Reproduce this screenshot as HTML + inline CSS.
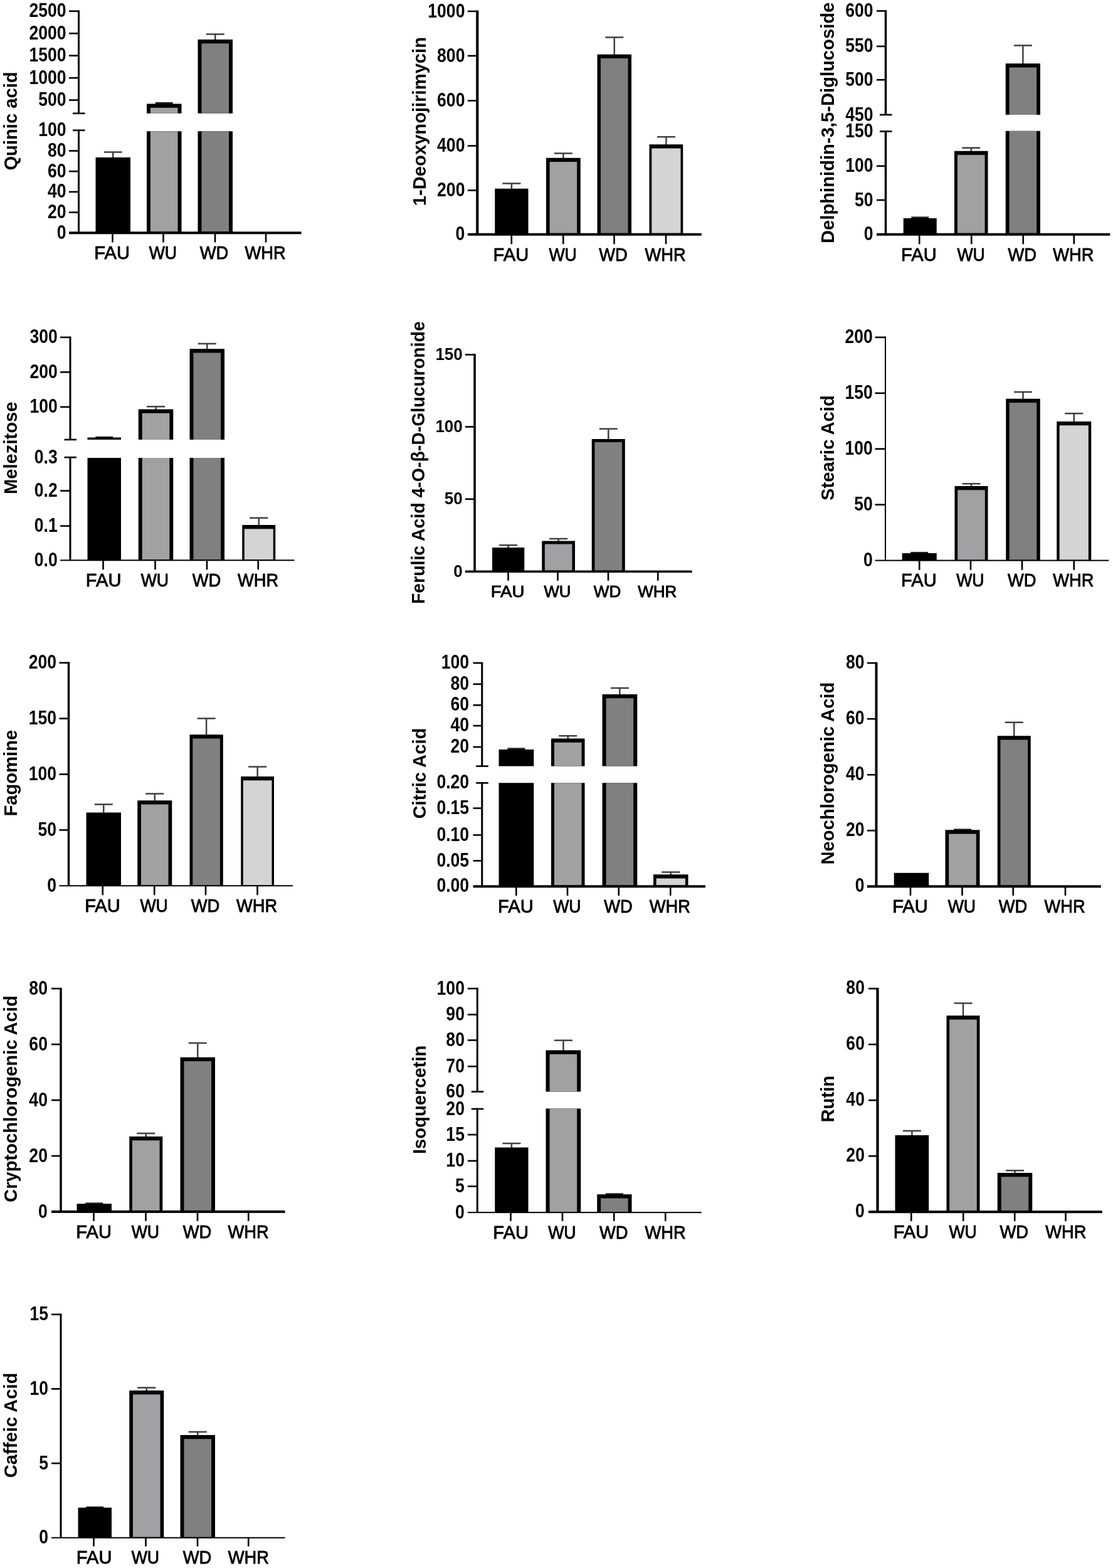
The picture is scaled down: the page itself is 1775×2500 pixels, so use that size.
<!DOCTYPE html>
<html lang="en">
<head>
<meta charset="utf-8">
<title>Metabolite content bar charts</title>
<style>
html,body{margin:0;padding:0;background:#fff;}
body{width:1775px;height:2500px;overflow:hidden;}
svg{display:block;}
svg text{font-family:"Liberation Sans",sans-serif;fill:#000;}
.yl text{font-weight:bold;text-anchor:end;}
.xl text{text-anchor:middle;stroke:#000;stroke-width:0.9px;stroke-linejoin:round;}
.ti{font-weight:bold;text-anchor:middle;}
.err{fill:none;stroke:#404040;stroke-width:2.5;}
.axes rect{fill:#000;}
</style>
</head>
<body>
<svg width="1775" height="2500" viewBox="0 0 1775 2500" role="img" aria-label="Bar charts of metabolite contents in FAU, WU, WD and WHR">
<rect width="1775" height="2500" fill="#fff"/>
<g class="chart" id="c1">
<g class="bars">
<path class="err" d="M180.25 252V242.5M165.75 242.5H194.75"/>
<rect x="152.5" y="251" width="55.5" height="120.3" fill="#000"/>
<rect x="247.75" y="162.9" width="28" height="3.2" fill="#1c1c1c"/>
<rect x="234" y="165.5" width="55.5" height="15.3" fill="#000"/>
<rect x="239.95" y="171.8" width="43.6" height="9" fill="#a1a1a4"/>
<rect x="234" y="209.3" width="55.5" height="162" fill="#000"/>
<rect x="239.95" y="209.3" width="43.6" height="160" fill="#a1a1a4"/>
<path class="err" d="M343.25 64V54.5M328.75 54.5H357.75"/>
<rect x="315.5" y="63" width="55.5" height="117.8" fill="#000"/>
<rect x="321.45" y="69.3" width="43.6" height="111.5" fill="#808080"/>
<rect x="315.5" y="209.3" width="55.5" height="162" fill="#000"/>
<rect x="321.45" y="209.3" width="43.6" height="160" fill="#808080"/>
</g>
<g class="axes">
<rect x="124" y="16.5" width="3" height="164.3"/>
<rect x="110" y="16.5" width="15.5" height="2.6"/>
<rect x="110" y="52" width="15.5" height="2.6"/>
<rect x="110" y="87.4" width="15.5" height="2.6"/>
<rect x="110" y="122.9" width="15.5" height="2.6"/>
<rect x="110" y="158.3" width="15.5" height="2.6"/>
<rect x="116" y="179.5" width="19.5" height="2.6"/>
<rect x="124" y="206.5" width="3" height="164.8"/>
<rect x="116" y="206.5" width="19.5" height="2.6"/>
<rect x="110" y="239.2" width="15.5" height="2.6"/>
<rect x="110" y="271.9" width="15.5" height="2.6"/>
<rect x="110" y="304.6" width="15.5" height="2.6"/>
<rect x="110" y="337.3" width="15.5" height="2.6"/>
<rect x="110" y="369.3" width="370.5" height="4"/>
<rect x="178.2" y="371.3" width="2.6" height="15.2"/>
<rect x="259.2" y="371.3" width="2.6" height="15.2"/>
<rect x="341.7" y="371.3" width="2.6" height="15.2"/>
<rect x="422.7" y="371.3" width="2.6" height="15.2"/>
</g>
<g class="yl" font-size="32">
<text transform="translate(105.6 27.16) scale(0.83 1)">2500</text>
<text transform="translate(105.6 62.66) scale(0.83 1)">2000</text>
<text transform="translate(105.6 98.06) scale(0.83 1)">1500</text>
<text transform="translate(105.6 133.56) scale(0.83 1)">1000</text>
<text transform="translate(105.6 168.96) scale(0.83 1)">500</text>
<text transform="translate(105.6 217.16) scale(0.83 1)">100</text>
<text transform="translate(105.6 249.86) scale(0.83 1)">80</text>
<text transform="translate(105.6 282.56) scale(0.83 1)">60</text>
<text transform="translate(105.6 315.26) scale(0.83 1)">40</text>
<text transform="translate(105.6 347.96) scale(0.83 1)">20</text>
<text transform="translate(105.6 380.66) scale(0.83 1)">0</text>
</g>
<g class="xl" font-size="30">
<text transform="translate(178.6 413) scale(0.97 1)">FAU</text>
<text transform="translate(259.9 413) scale(0.89 1)">WU</text>
<text transform="translate(341.5 413) scale(0.91 1)">WD</text>
<text transform="translate(423 413) scale(0.91 1)">WHR</text>
</g>
<text class="ti" font-size="29.2" transform="translate(26.9 192.95) rotate(-90) scale(1 1.01)">Quinic acid</text>
</g>
<g class="chart" id="c2">
<g class="bars">
<path class="err" d="M815.88 301.75V292.5M801.38 292.5H830.38"/>
<rect x="789.25" y="300.75" width="53.25" height="73" fill="#000"/>
<path class="err" d="M898.38 252.75V244.5M883.88 244.5H912.88"/>
<rect x="871" y="251.75" width="54.75" height="122" fill="#000"/>
<rect x="876.58" y="258.05" width="43.6" height="113.7" fill="#a1a1a4"/>
<path class="err" d="M979.75 87.75V59.5M965.25 59.5H994.25"/>
<rect x="952.5" y="86.75" width="54.5" height="287" fill="#000"/>
<rect x="957.95" y="93.05" width="43.6" height="278.7" fill="#808080"/>
<path class="err" d="M1062.38 231.25V218.25M1047.88 218.25H1076.88"/>
<rect x="1035.5" y="230.25" width="53.75" height="143.5" fill="#000"/>
<rect x="1039.28" y="236.55" width="46.2" height="135.2" fill="#d4d4d4"/>
</g>
<g class="axes">
<rect x="759.15" y="16.7" width="4.2" height="357.05"/>
<rect x="745.8" y="16.7" width="15.45" height="2.6"/>
<rect x="745.8" y="87.7" width="15.45" height="2.6"/>
<rect x="745.8" y="159.2" width="15.45" height="2.6"/>
<rect x="745.8" y="231.2" width="15.45" height="2.6"/>
<rect x="745.8" y="302.2" width="15.45" height="2.6"/>
<rect x="745.8" y="371.75" width="372.95" height="4"/>
<rect x="814.45" y="373.75" width="2.6" height="15.5"/>
<rect x="896.95" y="373.75" width="2.6" height="15.5"/>
<rect x="978.2" y="373.75" width="2.6" height="15.5"/>
<rect x="1060.7" y="373.75" width="2.6" height="15.5"/>
</g>
<g class="yl" font-size="32">
<text transform="translate(741.4 27.51) scale(0.83 1)">1000</text>
<text transform="translate(741.4 98.51) scale(0.83 1)">800</text>
<text transform="translate(741.4 170.01) scale(0.83 1)">600</text>
<text transform="translate(741.4 242.01) scale(0.83 1)">400</text>
<text transform="translate(741.4 313.01) scale(0.83 1)">200</text>
<text transform="translate(741.4 383.26) scale(0.83 1)">0</text>
</g>
<g class="xl" font-size="30">
<text transform="translate(814.85 416) scale(0.97 1)">FAU</text>
<text transform="translate(897.65 416) scale(0.89 1)">WU</text>
<text transform="translate(978 416) scale(0.91 1)">WD</text>
<text transform="translate(1061 416) scale(0.91 1)">WHR</text>
</g>
<text class="ti" font-size="29.2" transform="translate(678.9 193.57) rotate(-90) scale(1 1.01)">1-Deoxynojirimycin</text>
</g>
<g class="chart" id="c3">
<g class="bars">
<rect x="1453.25" y="345.4" width="28" height="3.2" fill="#1c1c1c"/>
<rect x="1440.75" y="348" width="53" height="25.75" fill="#000"/>
<path class="err" d="M1548.75 241.75V235.75M1534.25 235.75H1563.25"/>
<rect x="1522" y="240.75" width="53.5" height="133" fill="#000"/>
<rect x="1526.95" y="247.05" width="43.6" height="124.7" fill="#a1a1a4"/>
<path class="err" d="M1631.38 102.25V72.5M1616.88 72.5H1645.88"/>
<rect x="1603.75" y="101.25" width="55.25" height="81.75" fill="#000"/>
<rect x="1609.58" y="107.55" width="43.6" height="75.45" fill="#808080"/>
<rect x="1603.75" y="208.8" width="55.25" height="164.95" fill="#000"/>
<rect x="1609.58" y="208.8" width="43.6" height="162.95" fill="#808080"/>
</g>
<g class="axes">
<rect x="1410.75" y="16.2" width="3.5" height="166.8"/>
<rect x="1398" y="16.2" width="14.5" height="2.6"/>
<rect x="1398" y="72.6" width="14.5" height="2.6"/>
<rect x="1398" y="126" width="14.5" height="2.6"/>
<rect x="1403" y="181.7" width="19.5" height="2.6"/>
<rect x="1410.75" y="208.2" width="3.5" height="165.55"/>
<rect x="1403" y="208.2" width="19.5" height="2.6"/>
<rect x="1398" y="263.45" width="14.5" height="2.6"/>
<rect x="1398" y="317.7" width="14.5" height="2.6"/>
<rect x="1398" y="371.75" width="372.25" height="4"/>
<rect x="1464.95" y="373.75" width="2.6" height="15.5"/>
<rect x="1547.95" y="373.75" width="2.6" height="15.5"/>
<rect x="1630.45" y="373.75" width="2.6" height="15.5"/>
<rect x="1711.45" y="373.75" width="2.6" height="15.5"/>
</g>
<g class="yl" font-size="32">
<text transform="translate(1392.6 27.01) scale(0.83 1)">600</text>
<text transform="translate(1392.6 83.41) scale(0.83 1)">550</text>
<text transform="translate(1392.6 136.81) scale(0.83 1)">500</text>
<text transform="translate(1392.6 192.51) scale(0.83 1)">450</text>
<text transform="translate(1392.6 219.01) scale(0.83 1)">150</text>
<text transform="translate(1392.6 274.26) scale(0.83 1)">100</text>
<text transform="translate(1392.6 328.51) scale(0.83 1)">50</text>
<text transform="translate(1392.6 383.26) scale(0.83 1)">0</text>
</g>
<g class="xl" font-size="30">
<text transform="translate(1465.35 416) scale(0.97 1)">FAU</text>
<text transform="translate(1548.65 416) scale(0.89 1)">WU</text>
<text transform="translate(1630.25 416) scale(0.91 1)">WD</text>
<text transform="translate(1711.75 416) scale(0.91 1)">WHR</text>
</g>
<text class="ti" font-size="29.2" transform="translate(1330.4 195.82) rotate(-90) scale(1 1.01)">Delphinidin-3,5-Diglucoside</text>
</g>
<g class="chart" id="c4">
<g class="bars">
<rect x="152.25" y="695.9" width="28" height="2.2" fill="#1c1c1c"/>
<rect x="139.5" y="697.5" width="53.5" height="3.45" fill="#000"/>
<rect x="139.5" y="730" width="53.5" height="163.3" fill="#000"/>
<path class="err" d="M248.5 653.5V648.25M234 648.25H263"/>
<rect x="220.75" y="652.5" width="55.5" height="48.45" fill="#000"/>
<rect x="226.7" y="658.8" width="43.6" height="42.15" fill="#a1a1a4"/>
<rect x="220.75" y="730" width="55.5" height="163.3" fill="#000"/>
<rect x="226.7" y="730" width="43.6" height="162.3" fill="#a1a1a4"/>
<path class="err" d="M330.25 557.25V548M315.75 548H344.75"/>
<rect x="302.5" y="556.25" width="55.5" height="144.7" fill="#000"/>
<rect x="308.45" y="562.55" width="43.6" height="138.4" fill="#808080"/>
<rect x="302.5" y="730" width="55.5" height="163.3" fill="#000"/>
<rect x="308.45" y="730" width="43.6" height="162.3" fill="#808080"/>
<path class="err" d="M412.75 838V825.75M398.25 825.75H427.25"/>
<rect x="386.25" y="837" width="53" height="56.3" fill="#000"/>
<rect x="389.75" y="843.3" width="46" height="49" fill="#d4d4d4"/>
</g>
<g class="axes">
<rect x="110.5" y="536.55" width="3" height="164.4"/>
<rect x="96.1" y="536.55" width="15.9" height="2.6"/>
<rect x="96.1" y="592.05" width="15.9" height="2.6"/>
<rect x="96.1" y="647.55" width="15.9" height="2.6"/>
<rect x="102.5" y="699.65" width="19.5" height="2.6"/>
<rect x="110.5" y="727.9" width="3" height="165.4"/>
<rect x="102.5" y="727.9" width="19.5" height="2.6"/>
<rect x="96.1" y="781.2" width="15.9" height="2.6"/>
<rect x="96.1" y="837.3" width="15.9" height="2.6"/>
<rect x="96.1" y="892.3" width="373.4" height="2"/>
<rect x="163.2" y="893.3" width="2.6" height="14.9"/>
<rect x="246.2" y="893.3" width="2.6" height="14.9"/>
<rect x="328.7" y="893.3" width="2.6" height="14.9"/>
<rect x="410.45" y="893.3" width="2.6" height="14.9"/>
</g>
<g class="yl" font-size="32">
<text transform="translate(91.7 547.36) scale(0.83 1)">300</text>
<text transform="translate(91.7 602.86) scale(0.83 1)">200</text>
<text transform="translate(91.7 658.36) scale(0.83 1)">100</text>
<text transform="translate(91.7 738.71) scale(0.83 1)">0.3</text>
<text transform="translate(91.7 792.01) scale(0.83 1)">0.2</text>
<text transform="translate(91.7 848.11) scale(0.83 1)">0.1</text>
<text transform="translate(91.7 902.81) scale(0.83 1)">0.0</text>
</g>
<g class="xl" font-size="30">
<text transform="translate(165.1 935) scale(0.97 1)">FAU</text>
<text transform="translate(246.9 935) scale(0.89 1)">WU</text>
<text transform="translate(329.5 935) scale(0.91 1)">WD</text>
<text transform="translate(411.55 935) scale(0.91 1)">WHR</text>
</g>
<text class="ti" font-size="29.2" transform="translate(27.4 714.28) rotate(-90) scale(1 1.01)">Melezitose</text>
</g>
<g class="chart" id="c5">
<g class="bars">
<path class="err" d="M810.62 874V869.25M796.12 869.25H825.12"/>
<rect x="785" y="873" width="51.25" height="38.25" fill="#000"/>
<path class="err" d="M890.62 863.5V859M876.12 859H905.12"/>
<rect x="864.25" y="862.5" width="52.75" height="48.75" fill="#000"/>
<rect x="868.83" y="867.5" width="43.6" height="42" fill="#a1a1a4"/>
<path class="err" d="M970.25 701V683.75M955.75 683.75H984.75"/>
<rect x="943.75" y="700" width="53" height="211.25" fill="#000"/>
<rect x="948.45" y="705" width="43.6" height="204.5" fill="#808080"/>
</g>
<g class="axes">
<rect x="755.2" y="564.2" width="3.6" height="347.05"/>
<rect x="741.8" y="564.2" width="15.2" height="2.6"/>
<rect x="741.8" y="679.2" width="15.2" height="2.6"/>
<rect x="741.8" y="794.45" width="15.2" height="2.6"/>
<rect x="741.8" y="909.5" width="361.95" height="3.5"/>
<rect x="809.2" y="911.25" width="2.6" height="14.5"/>
<rect x="888.2" y="911.25" width="2.6" height="14.5"/>
<rect x="968.7" y="911.25" width="2.6" height="14.5"/>
<rect x="1047.95" y="911.25" width="2.6" height="14.5"/>
</g>
<g class="yl" font-size="28">
<text transform="translate(737.8 574.03) scale(0.93 1)">150</text>
<text transform="translate(737.8 689.03) scale(0.93 1)">100</text>
<text transform="translate(737.8 804.28) scale(0.93 1)">50</text>
<text transform="translate(737.8 919.78) scale(0.93 1)">0</text>
</g>
<g class="xl" font-size="26.3">
<text transform="translate(809.6 951.5) scale(1.05 1)">FAU</text>
<text transform="translate(888.9 951.5) scale(0.98 1)">WU</text>
<text transform="translate(968.5 951.5) scale(0.99 1)">WD</text>
<text transform="translate(1048.25 951.5) scale(0.99 1)">WHR</text>
</g>
<text class="ti" font-size="28.45" transform="translate(677 737.67) rotate(-90) scale(1 1.01)">Ferulic Acid 4-O-β-D-Glucuronide</text>
</g>
<g class="chart" id="c6">
<g class="bars">
<rect x="1452.25" y="879.9" width="28" height="2.7" fill="#1c1c1c"/>
<rect x="1438.75" y="882" width="55" height="11.6" fill="#000"/>
<path class="err" d="M1549 776V771.25M1534.5 771.25H1563.5"/>
<rect x="1522.5" y="775" width="53" height="118.6" fill="#000"/>
<rect x="1527.2" y="781.3" width="43.6" height="111.3" fill="#a1a1a4"/>
<path class="err" d="M1631.5 636.75V625M1617 625H1646"/>
<rect x="1604.25" y="635.75" width="54.5" height="257.85" fill="#000"/>
<rect x="1609.7" y="642.05" width="43.6" height="250.55" fill="#808080"/>
<path class="err" d="M1712.75 673V659.25M1698.25 659.25H1727.25"/>
<rect x="1685.25" y="672" width="55" height="221.6" fill="#000"/>
<rect x="1689.65" y="678.3" width="46.2" height="214.3" fill="#d4d4d4"/>
</g>
<g class="axes">
<rect x="1411" y="536.55" width="2" height="357.05"/>
<rect x="1395.5" y="536.55" width="16.5" height="2.6"/>
<rect x="1395.5" y="625.55" width="16.5" height="2.6"/>
<rect x="1395.5" y="714.45" width="16.5" height="2.6"/>
<rect x="1395.5" y="803.35" width="16.5" height="2.6"/>
<rect x="1395.5" y="892.6" width="372.75" height="2"/>
<rect x="1464.95" y="893.6" width="2.6" height="15.15"/>
<rect x="1546.7" y="893.6" width="2.6" height="15.15"/>
<rect x="1628.7" y="893.6" width="2.6" height="15.15"/>
<rect x="1711.45" y="893.6" width="2.6" height="15.15"/>
</g>
<g class="yl" font-size="32">
<text transform="translate(1391.7 547.18) scale(0.83 1)">200</text>
<text transform="translate(1391.7 636.18) scale(0.83 1)">150</text>
<text transform="translate(1391.7 725.08) scale(0.83 1)">100</text>
<text transform="translate(1391.7 813.98) scale(0.83 1)">50</text>
<text transform="translate(1391.7 902.93) scale(0.83 1)">0</text>
</g>
<g class="xl" font-size="30">
<text transform="translate(1465.35 935.1) scale(0.97 1)">FAU</text>
<text transform="translate(1547.4 935.1) scale(0.89 1)">WU</text>
<text transform="translate(1629.7 935.1) scale(0.91 1)">WD</text>
<text transform="translate(1711.75 935.1) scale(0.91 1)">WHR</text>
</g>
<text class="ti" font-size="29.2" transform="translate(1330.4 714.08) rotate(-90) scale(1 1.01)">Stearic Acid</text>
</g>
<g class="chart" id="c7">
<g class="bars">
<path class="err" d="M165.25 1296.5V1282.5M150.75 1282.5H179.75"/>
<rect x="137.5" y="1295.5" width="55.5" height="116.75" fill="#000"/>
<path class="err" d="M246.75 1277.25V1265.5M232.25 1265.5H261.25"/>
<rect x="219.25" y="1276.25" width="55" height="136" fill="#000"/>
<rect x="224.95" y="1282.55" width="43.6" height="128.7" fill="#a1a1a4"/>
<path class="err" d="M329.12 1172.25V1145.5M314.62 1145.5H343.62"/>
<rect x="302.5" y="1171.25" width="53.25" height="241" fill="#000"/>
<rect x="307.32" y="1177.55" width="43.6" height="233.7" fill="#808080"/>
<path class="err" d="M410.62 1239V1222.5M396.12 1222.5H425.12"/>
<rect x="384.25" y="1238" width="52.75" height="174.25" fill="#000"/>
<rect x="387.75" y="1244.3" width="45.75" height="166.95" fill="#d4d4d4"/>
</g>
<g class="axes">
<rect x="107.75" y="1055.45" width="3.5" height="356.8"/>
<rect x="94.5" y="1055.45" width="15" height="2.6"/>
<rect x="94.5" y="1144.3" width="15" height="2.6"/>
<rect x="94.5" y="1233.2" width="15" height="2.6"/>
<rect x="94.5" y="1322.1" width="15" height="2.6"/>
<rect x="94.5" y="1411.25" width="372.5" height="2"/>
<rect x="162.45" y="1412.25" width="2.6" height="15"/>
<rect x="244.95" y="1412.25" width="2.6" height="15"/>
<rect x="326.7" y="1412.25" width="2.6" height="15"/>
<rect x="409.2" y="1412.25" width="2.6" height="15"/>
</g>
<g class="yl" font-size="32">
<text transform="translate(90.1 1066.01) scale(0.83 1)">200</text>
<text transform="translate(90.1 1154.86) scale(0.83 1)">150</text>
<text transform="translate(90.1 1243.76) scale(0.83 1)">100</text>
<text transform="translate(90.1 1332.66) scale(0.83 1)">50</text>
<text transform="translate(90.1 1421.51) scale(0.83 1)">0</text>
</g>
<g class="xl" font-size="30">
<text transform="translate(163.45 1454.45) scale(0.97 1)">FAU</text>
<text transform="translate(245.65 1454.45) scale(0.89 1)">WU</text>
<text transform="translate(327.5 1454.45) scale(0.91 1)">WD</text>
<text transform="translate(409.5 1454.45) scale(0.91 1)">WHR</text>
</g>
<text class="ti" font-size="29.2" transform="translate(27.4 1232.7) rotate(-90) scale(1 1.01)">Fagomine</text>
</g>
<g class="chart" id="c8">
<g class="bars">
<rect x="809.38" y="1192.4" width="28" height="3.2" fill="#1c1c1c"/>
<rect x="795.5" y="1195" width="55.75" height="26.55" fill="#000"/>
<rect x="795.5" y="1248.25" width="55.75" height="165.05" fill="#000"/>
<path class="err" d="M905.75 1178.5V1173.25M891.25 1173.25H920.25"/>
<rect x="879" y="1177.5" width="53.5" height="44.05" fill="#000"/>
<rect x="883.95" y="1183.8" width="43.6" height="37.75" fill="#a1a1a4"/>
<rect x="879" y="1248.25" width="53.5" height="165.05" fill="#000"/>
<rect x="883.95" y="1248.25" width="43.6" height="163.05" fill="#a1a1a4"/>
<path class="err" d="M988.38 1108V1097M973.88 1097H1002.88"/>
<rect x="960.5" y="1107" width="55.75" height="114.55" fill="#000"/>
<rect x="966.58" y="1113.3" width="43.6" height="108.25" fill="#808080"/>
<rect x="960.5" y="1248.25" width="55.75" height="165.05" fill="#000"/>
<rect x="966.58" y="1248.25" width="43.6" height="163.05" fill="#808080"/>
<path class="err" d="M1069.75 1395.25V1390.5M1055.25 1390.5H1084.25"/>
<rect x="1042" y="1394.25" width="55.5" height="19.05" fill="#000"/>
<rect x="1046.65" y="1400.55" width="46.2" height="10.75" fill="#d4d4d4"/>
</g>
<g class="axes">
<rect x="767.25" y="1055.75" width="3" height="165.8"/>
<rect x="754.5" y="1055.75" width="14.25" height="2.6"/>
<rect x="754.5" y="1089.5" width="14.25" height="2.6"/>
<rect x="754.5" y="1123" width="14.25" height="2.6"/>
<rect x="754.5" y="1155.8" width="14.25" height="2.6"/>
<rect x="754.5" y="1189.7" width="14.25" height="2.6"/>
<rect x="759.25" y="1220.25" width="19.5" height="2.6"/>
<rect x="767.25" y="1247.05" width="3" height="166.25"/>
<rect x="759.25" y="1247.05" width="19.5" height="2.6"/>
<rect x="754.5" y="1287.3" width="14.25" height="2.6"/>
<rect x="754.5" y="1330.1" width="14.25" height="2.6"/>
<rect x="754.5" y="1371.1" width="14.25" height="2.6"/>
<rect x="754.5" y="1411.3" width="370.5" height="4"/>
<rect x="821.95" y="1413.3" width="2.6" height="14.7"/>
<rect x="903.7" y="1413.3" width="2.6" height="14.7"/>
<rect x="985.45" y="1413.3" width="2.6" height="14.7"/>
<rect x="1067.95" y="1413.3" width="2.6" height="14.7"/>
</g>
<g class="yl" font-size="32">
<text transform="translate(748.1 1066.16) scale(0.83 1)">100</text>
<text transform="translate(748.1 1099.91) scale(0.83 1)">80</text>
<text transform="translate(748.1 1133.41) scale(0.83 1)">60</text>
<text transform="translate(748.1 1166.21) scale(0.83 1)">40</text>
<text transform="translate(748.1 1200.11) scale(0.83 1)">20</text>
<text transform="translate(748.1 1257.46) scale(0.83 1)">0.20</text>
<text transform="translate(748.1 1297.71) scale(0.83 1)">0.15</text>
<text transform="translate(748.1 1340.51) scale(0.83 1)">0.10</text>
<text transform="translate(748.1 1381.51) scale(0.83 1)">0.05</text>
<text transform="translate(748.1 1422.41) scale(0.83 1)">0.00</text>
</g>
<g class="xl" font-size="30">
<text transform="translate(822.35 1455.3) scale(0.97 1)">FAU</text>
<text transform="translate(904.4 1455.3) scale(0.89 1)">WU</text>
<text transform="translate(986.05 1455.3) scale(0.91 1)">WD</text>
<text transform="translate(1068.25 1455.3) scale(0.91 1)">WHR</text>
</g>
<text class="ti" font-size="29.2" transform="translate(679.15 1233.08) rotate(-90) scale(1 1.01)">Citric Acid</text>
</g>
<g class="chart" id="c9">
<g class="bars">
<rect x="1425.75" y="1391.75" width="55.5" height="21.6" fill="#000"/>
<rect x="1521" y="1321.4" width="28" height="2.45" fill="#1c1c1c"/>
<rect x="1507.5" y="1323.25" width="55" height="90.1" fill="#000"/>
<rect x="1513.2" y="1329.55" width="43.6" height="81.8" fill="#a1a1a4"/>
<path class="err" d="M1617.25 1174.25V1151.75M1602.75 1151.75H1631.75"/>
<rect x="1590.75" y="1173.25" width="53" height="240.1" fill="#000"/>
<rect x="1595.45" y="1179.55" width="43.6" height="231.8" fill="#808080"/>
</g>
<g class="axes">
<rect x="1395.5" y="1055.8" width="4" height="357.55"/>
<rect x="1383" y="1055.8" width="14.5" height="2.6"/>
<rect x="1383" y="1144.85" width="14.5" height="2.6"/>
<rect x="1383" y="1233.95" width="14.5" height="2.6"/>
<rect x="1383" y="1322.95" width="14.5" height="2.6"/>
<rect x="1383" y="1411.35" width="372.75" height="4"/>
<rect x="1450.7" y="1413.35" width="2.6" height="14.65"/>
<rect x="1533.2" y="1413.35" width="2.6" height="14.65"/>
<rect x="1614.45" y="1413.35" width="2.6" height="14.65"/>
<rect x="1697.7" y="1413.35" width="2.6" height="14.65"/>
</g>
<g class="yl" font-size="32">
<text transform="translate(1378.6 1066.18) scale(0.83 1)">80</text>
<text transform="translate(1378.6 1155.23) scale(0.83 1)">60</text>
<text transform="translate(1378.6 1244.33) scale(0.83 1)">40</text>
<text transform="translate(1378.6 1333.33) scale(0.83 1)">20</text>
<text transform="translate(1378.6 1422.43) scale(0.83 1)">0</text>
</g>
<g class="xl" font-size="30">
<text transform="translate(1451.5 1455.2) scale(0.97 1)">FAU</text>
<text transform="translate(1533.9 1455.2) scale(0.89 1)">WU</text>
<text transform="translate(1615.55 1455.2) scale(0.91 1)">WD</text>
<text transform="translate(1698 1455.2) scale(0.91 1)">WHR</text>
</g>
<text class="ti" font-size="29.2" transform="translate(1330.4 1233.08) rotate(-90) scale(1 1.01)">Neochlorogenic Acid</text>
</g>
<g class="chart" id="c10">
<g class="bars">
<rect x="136.25" y="1917.4" width="28" height="2.45" fill="#1c1c1c"/>
<rect x="122.5" y="1919.25" width="55.5" height="12.7" fill="#000"/>
<path class="err" d="M232.75 1813V1807M218.25 1807H247.25"/>
<rect x="206.25" y="1812" width="53" height="119.95" fill="#000"/>
<rect x="210.95" y="1818.3" width="43.6" height="111.65" fill="#a1a1a4"/>
<path class="err" d="M315.25 1686.75V1663M300.75 1663H329.75"/>
<rect x="287.5" y="1685.75" width="55.5" height="246.2" fill="#000"/>
<rect x="293.45" y="1692.05" width="43.6" height="237.9" fill="#808080"/>
</g>
<g class="axes">
<rect x="95.25" y="1574.9" width="3.5" height="357.05"/>
<rect x="82" y="1574.9" width="15" height="2.6"/>
<rect x="82" y="1663.8" width="15" height="2.6"/>
<rect x="82" y="1752.8" width="15" height="2.6"/>
<rect x="82" y="1841.7" width="15" height="2.6"/>
<rect x="82" y="1929.95" width="372.5" height="4"/>
<rect x="148.2" y="1931.95" width="2.6" height="14.8"/>
<rect x="231.2" y="1931.95" width="2.6" height="14.8"/>
<rect x="313.7" y="1931.95" width="2.6" height="14.8"/>
<rect x="394.95" y="1931.95" width="2.6" height="14.8"/>
</g>
<g class="yl" font-size="32">
<text transform="translate(75.9 1585.76) scale(0.83 1)">80</text>
<text transform="translate(75.9 1674.66) scale(0.83 1)">60</text>
<text transform="translate(75.9 1763.66) scale(0.83 1)">40</text>
<text transform="translate(75.9 1852.56) scale(0.83 1)">20</text>
<text transform="translate(75.9 1941.51) scale(0.83 1)">0</text>
</g>
<g class="xl" font-size="30">
<text transform="translate(149.6 1973.95) scale(0.97 1)">FAU</text>
<text transform="translate(231.9 1973.95) scale(0.89 1)">WU</text>
<text transform="translate(314.4 1973.95) scale(0.91 1)">WD</text>
<text transform="translate(396.05 1973.95) scale(0.91 1)">WHR</text>
</g>
<text class="ti" font-size="29.2" transform="translate(27.4 1752.08) rotate(-90) scale(1 1.01)">Cryptochlorogenic Acid</text>
</g>
<g class="chart" id="c11">
<g class="bars">
<path class="err" d="M815.88 1830.5V1823M801.38 1823H830.38"/>
<rect x="789.25" y="1829.5" width="53.25" height="103.65" fill="#000"/>
<path class="err" d="M898.38 1675.5V1658.75M883.88 1658.75H912.88"/>
<rect x="870.5" y="1674.5" width="55.75" height="66.05" fill="#000"/>
<rect x="876.58" y="1680.8" width="43.6" height="59.75" fill="#a1a1a4"/>
<rect x="870.5" y="1767.5" width="55.75" height="165.65" fill="#000"/>
<rect x="876.58" y="1767.5" width="43.6" height="164.65" fill="#a1a1a4"/>
<rect x="965.88" y="1902.4" width="28" height="2.45" fill="#1c1c1c"/>
<rect x="952.25" y="1904.25" width="55.25" height="28.9" fill="#000"/>
<rect x="958.08" y="1910.55" width="43.6" height="21.6" fill="#808080"/>
</g>
<g class="axes">
<rect x="759.75" y="1574.85" width="3" height="165.7"/>
<rect x="745.8" y="1574.85" width="15.45" height="2.6"/>
<rect x="745.8" y="1616.35" width="15.45" height="2.6"/>
<rect x="745.8" y="1657.2" width="15.45" height="2.6"/>
<rect x="745.8" y="1699" width="15.45" height="2.6"/>
<rect x="751.75" y="1739.25" width="19.5" height="2.6"/>
<rect x="759.75" y="1766.75" width="3" height="166.4"/>
<rect x="751.75" y="1766.75" width="19.5" height="2.6"/>
<rect x="745.8" y="1807.8" width="15.45" height="2.6"/>
<rect x="745.8" y="1849.6" width="15.45" height="2.6"/>
<rect x="745.8" y="1890.2" width="15.45" height="2.6"/>
<rect x="745.8" y="1932.15" width="372.95" height="2"/>
<rect x="813.2" y="1933.15" width="2.6" height="13.7"/>
<rect x="895.7" y="1933.15" width="2.6" height="13.7"/>
<rect x="977.95" y="1933.15" width="2.6" height="13.7"/>
<rect x="1059.95" y="1933.15" width="2.6" height="13.7"/>
</g>
<g class="yl" font-size="32">
<text transform="translate(740.9 1585.66) scale(0.83 1)">100</text>
<text transform="translate(740.9 1627.16) scale(0.83 1)">90</text>
<text transform="translate(740.9 1668.01) scale(0.83 1)">80</text>
<text transform="translate(740.9 1709.81) scale(0.83 1)">70</text>
<text transform="translate(740.9 1750.06) scale(0.83 1)">60</text>
<text transform="translate(740.9 1777.56) scale(0.83 1)">20</text>
<text transform="translate(740.9 1818.61) scale(0.83 1)">15</text>
<text transform="translate(740.9 1860.41) scale(0.83 1)">10</text>
<text transform="translate(740.9 1901.01) scale(0.83 1)">5</text>
<text transform="translate(740.9 1942.66) scale(0.83 1)">0</text>
</g>
<g class="xl" font-size="30">
<text transform="translate(814.6 1975.25) scale(0.97 1)">FAU</text>
<text transform="translate(896.4 1975.25) scale(0.89 1)">WU</text>
<text transform="translate(978.65 1975.25) scale(0.91 1)">WD</text>
<text transform="translate(1061.15 1975.25) scale(0.91 1)">WHR</text>
</g>
<text class="ti" font-size="29.2" transform="translate(679.15 1753.35) rotate(-90) scale(1 1.01)">Isoquercetin</text>
</g>
<g class="chart" id="c12">
<g class="bars">
<path class="err" d="M1454.38 1811V1803M1439.88 1803H1468.88"/>
<rect x="1427.5" y="1810" width="53.75" height="122.2" fill="#000"/>
<path class="err" d="M1536 1620.25V1599.5M1521.5 1599.5H1550.5"/>
<rect x="1509.5" y="1619.25" width="53" height="312.95" fill="#000"/>
<rect x="1514.2" y="1625.55" width="43.6" height="304.65" fill="#a1a1a4"/>
<path class="err" d="M1618.5 1871V1866.25M1604 1866.25H1633"/>
<rect x="1590.75" y="1870" width="55.5" height="62.2" fill="#000"/>
<rect x="1596.7" y="1876.3" width="43.6" height="53.9" fill="#808080"/>
</g>
<g class="axes">
<rect x="1397.4" y="1574.9" width="4.2" height="357.3"/>
<rect x="1385" y="1574.9" width="14.5" height="2.6"/>
<rect x="1385" y="1663.9" width="14.5" height="2.6"/>
<rect x="1385" y="1752.9" width="14.5" height="2.6"/>
<rect x="1385" y="1841.9" width="14.5" height="2.6"/>
<rect x="1385" y="1930.2" width="372.75" height="4"/>
<rect x="1451.95" y="1932.2" width="2.6" height="14.8"/>
<rect x="1534.95" y="1932.2" width="2.6" height="14.8"/>
<rect x="1616.95" y="1932.2" width="2.6" height="14.8"/>
<rect x="1698.2" y="1932.2" width="2.6" height="14.8"/>
</g>
<g class="yl" font-size="32">
<text transform="translate(1378.9 1585.36) scale(0.83 1)">80</text>
<text transform="translate(1378.9 1674.36) scale(0.83 1)">60</text>
<text transform="translate(1378.9 1763.36) scale(0.83 1)">40</text>
<text transform="translate(1378.9 1852.36) scale(0.83 1)">20</text>
<text transform="translate(1378.9 1941.36) scale(0.83 1)">0</text>
</g>
<g class="xl" font-size="30">
<text transform="translate(1452.95 1974.45) scale(0.97 1)">FAU</text>
<text transform="translate(1535.65 1974.45) scale(0.89 1)">WU</text>
<text transform="translate(1617.35 1974.45) scale(0.91 1)">WD</text>
<text transform="translate(1699.9 1974.45) scale(0.91 1)">WHR</text>
</g>
<text class="ti" font-size="29.2" transform="translate(1330.4 1752.2) rotate(-90) scale(1 1.01)">Rutin</text>
</g>
<g class="chart" id="c13">
<g class="bars">
<rect x="137.25" y="2401.9" width="28" height="2.45" fill="#1c1c1c"/>
<rect x="124.5" y="2403.75" width="53.5" height="48" fill="#000"/>
<path class="err" d="M233.75 2218V2212.5M219.25 2212.5H248.25"/>
<rect x="206.25" y="2217" width="55" height="234.75" fill="#000"/>
<rect x="211.95" y="2223.3" width="43.6" height="227.45" fill="#a1a1a4"/>
<path class="err" d="M315.25 2289V2283M300.75 2283H329.75"/>
<rect x="287.5" y="2288" width="55.5" height="163.75" fill="#000"/>
<rect x="293.45" y="2294.3" width="43.6" height="156.45" fill="#808080"/>
</g>
<g class="axes">
<rect x="95.5" y="2094.45" width="3" height="357.3"/>
<rect x="82" y="2094.45" width="15" height="2.6"/>
<rect x="82" y="2213.1" width="15" height="2.6"/>
<rect x="82" y="2331.8" width="15" height="2.6"/>
<rect x="82" y="2450.75" width="372.5" height="2"/>
<rect x="148.2" y="2451.75" width="2.6" height="13.8"/>
<rect x="231.2" y="2451.75" width="2.6" height="13.8"/>
<rect x="313.7" y="2451.75" width="2.6" height="13.8"/>
<rect x="394.95" y="2451.75" width="2.6" height="13.8"/>
</g>
<g class="yl" font-size="32">
<text transform="translate(77.1 2105.26) scale(0.83 1)">15</text>
<text transform="translate(77.1 2223.91) scale(0.83 1)">10</text>
<text transform="translate(77.1 2342.61) scale(0.83 1)">5</text>
<text transform="translate(77.1 2461.26) scale(0.83 1)">0</text>
</g>
<g class="xl" font-size="30">
<text transform="translate(150.1 2493.35) scale(0.97 1)">FAU</text>
<text transform="translate(231.9 2493.35) scale(0.89 1)">WU</text>
<text transform="translate(314.4 2493.35) scale(0.91 1)">WD</text>
<text transform="translate(396.45 2493.35) scale(0.91 1)">WHR</text>
</g>
<text class="ti" font-size="29.2" transform="translate(27.4 2272.45) rotate(-90) scale(1 1.01)">Caffeic Acid</text>
</g>
</svg>
</body>
</html>
